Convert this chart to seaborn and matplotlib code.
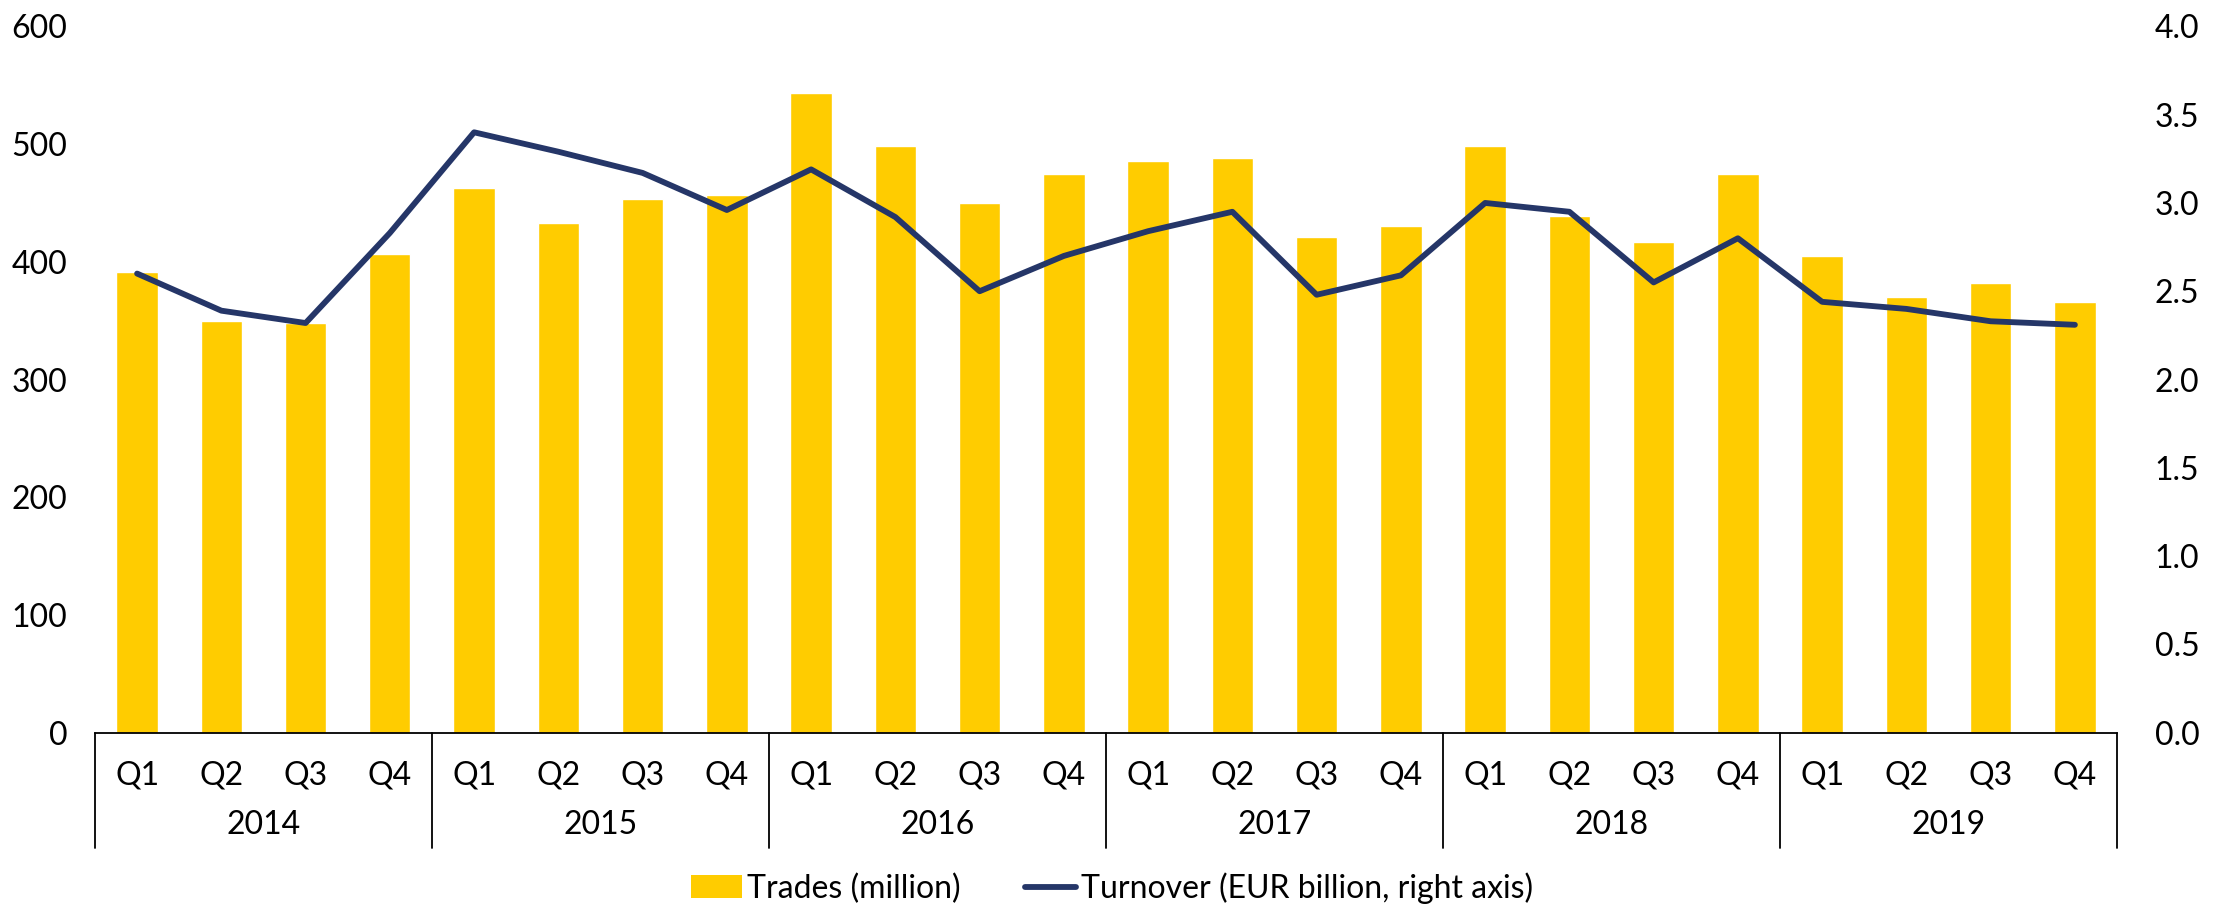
import pandas as pd
import matplotlib
matplotlib.use("Agg")
import matplotlib.pyplot as plt
import matplotlib.ticker as mticker
from matplotlib.lines import Line2D
from matplotlib.patches import Patch
import seaborn as sns

# Data
years = ["2014", "2015", "2016", "2017", "2018", "2019"]
quarters = ["Q1", "Q2", "Q3", "Q4"]
trades = [391, 350, 348, 407,
          463, 433, 453, 457,
          543, 498, 450, 475,
          486, 488, 421, 430,
          498, 439, 417, 475,
          405, 370, 382, 366]
turnover = [2.60, 2.39, 2.32, 2.83,
            3.40, 3.29, 3.17, 2.96,
            3.19, 2.92, 2.50, 2.70,
            2.84, 2.95, 2.48, 2.59,
            3.00, 2.95, 2.55, 2.80,
            2.44, 2.40, 2.33, 2.31]

YELLOW = "#FFCC00"
NAVY = "#253668"

df = pd.DataFrame({
    "year": [y for y in years for q in quarters],
    "quarter": quarters * len(years),
    "trades": trades,
    "turnover": turnover,
})
df["period"] = df["year"] + " " + df["quarter"]
df["pos"] = range(len(df))

sns.set_style("white")
plt.rcParams["font.family"] = ["Lato", "DejaVu Sans"]
plt.rcParams["font.size"] = 23
plt.rcParams["text.color"] = "black"
plt.rcParams["xtick.color"] = "black"
plt.rcParams["ytick.color"] = "black"

fig = plt.figure(figsize=(22.24, 9.08), dpi=100)
ax = fig.add_axes([0.0427, 0.193, 0.9092, 0.778])

sns.barplot(data=df, x="period", y="trades", order=df["period"], color=YELLOW,
            width=0.49, saturation=1, ax=ax)
ax.set_xlim(-0.5, len(df) - 0.5)
ax.set_ylim(0, 600)
ax.yaxis.set_major_locator(mticker.MultipleLocator(100))
ax.set_xlabel("")
ax.set_ylabel("")

ax2 = ax.twinx()
sns.lineplot(data=df, x="pos", y="turnover", color=NAVY, linewidth=4.2, ax=ax2,
             solid_capstyle="round", solid_joinstyle="round")
ax2.set_ylim(0, 4)
ax2.yaxis.set_major_locator(mticker.MultipleLocator(0.5))
ax2.yaxis.set_major_formatter(mticker.FormatStrFormatter("%.1f"))
ax2.set_ylabel("")
ax2.set_xlabel("")

for a in (ax, ax2):
    for s in ("left", "right", "top"):
        a.spines[s].set_visible(False)
    a.tick_params(axis="y", length=0, labelsize=23)
ax.spines["bottom"].set_visible(True)
ax.spines["bottom"].set_color("black")
ax.spines["bottom"].set_linewidth(1.3)
ax2.spines["bottom"].set_visible(False)
ax.tick_params(axis="y", pad=20)
ax2.tick_params(axis="y", pad=27)

# grouped x-axis: quarters, then years, with separators
ax.set_xticks(df["pos"])
ax.set_xticklabels([])
ax.tick_params(axis="x", length=0)
trans = ax.get_xaxis_transform()
for p, q in zip(df["pos"], df["quarter"]):
    ax.text(p, -0.061, q, transform=trans, ha="center", va="center", fontsize=23)
n = len(quarters)
for i, y in enumerate(years):
    mid = (i * n + (i + 1) * n - 1) / 2
    ax.text(mid, -0.130, y, transform=trans, ha="center", va="center", fontsize=23)
for i in range(len(years) + 1):
    ax.plot([i * n - 0.5, i * n - 0.5], [0, -0.163], transform=trans,
            color="black", linewidth=1.3, clip_on=False)

handles = [Patch(facecolor=YELLOW, edgecolor="none"),
           Line2D([0], [0], color=NAVY, linewidth=4.2, solid_capstyle="round")]
fig.legend(handles, ["Trades (million)", "Turnover (EUR billion, right axis)"],
           loc="center", bbox_to_anchor=(0.5, 0.022), ncol=2, frameon=False,
           fontsize=23, handlelength=1.6, handletextpad=0.15, columnspacing=2.0)

fig.savefig("out.png", dpi=100)
